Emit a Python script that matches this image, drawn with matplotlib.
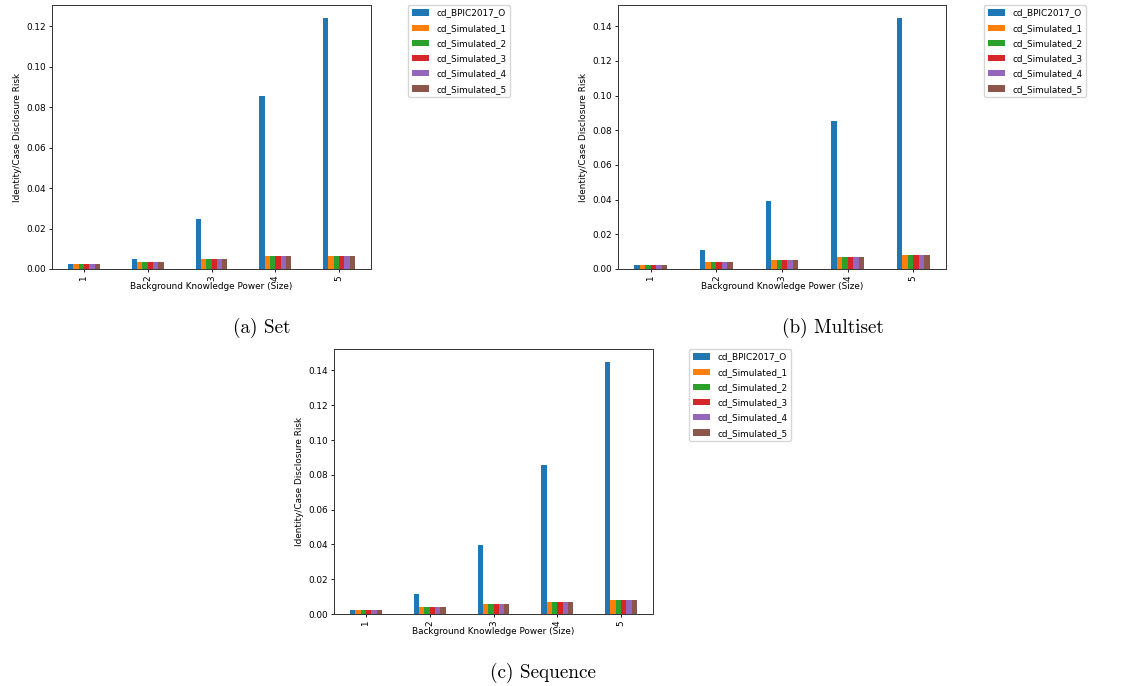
import matplotlib
matplotlib.use("Agg")
import matplotlib.pyplot as plt
import numpy as np

SIZES = ["1", "2", "3", "4", "5"]
SERIES = ["cd_BPIC2017_O", "cd_Simulated_1", "cd_Simulated_2",
          "cd_Simulated_3", "cd_Simulated_4", "cd_Simulated_5"]

# (a) Set
set_bpic = [0.0025, 0.0049, 0.0247, 0.0854, 0.1243]
set_sim = [0.0025, 0.0035, 0.0049, 0.0066, 0.0066]

# (b) Multiset
multiset_bpic = [0.0025, 0.0112, 0.0395, 0.0856, 0.1450]
multiset_sim = [0.0025, 0.0041, 0.0054, 0.0069, 0.0083]

# (c) Sequence
sequence_bpic = [0.0025, 0.0113, 0.0396, 0.0857, 0.1451]
sequence_sim = [0.0025, 0.0041, 0.0055, 0.0070, 0.0083]

COLORS = ["#1f77b4", "#ff7f0e", "#2ca02c", "#d62728", "#9467bd", "#8c564b"]
FS = 6.4

W, H = 1134, 686


def frac_box(left, top, right, bottom):
    return [left / W, 1 - bottom / H, (right - left) / W, (bottom - top) / H]


def draw(fig, box, legend_xy, bpic, sim, caption, caption_xy):
    ax = fig.add_axes(frac_box(*box))
    values = [bpic] + [sim] * 5
    x = np.arange(len(SIZES))
    width = 0.5 / len(SERIES)
    for i, (name, vals) in enumerate(zip(SERIES, values)):
        ax.bar(x - 0.25 + width * (i + 0.5), vals, width, color=COLORS[i], label=name)
    ax.set_xlim(-0.5, 4.5)
    ax.set_ylim(0, max(bpic) * 1.05)
    ax.set_xticks(x)
    ax.set_xticklabels(SIZES, rotation=90)
    ax.tick_params(labelsize=FS, length=2.3, width=0.6, pad=2)
    for sp in ax.spines.values():
        sp.set_linewidth(0.7)
        sp.set_edgecolor("#333333")
    ax.set_xlabel("Background Knowledge Power (Size)", fontsize=FS, labelpad=1)
    ax.set_ylabel("Identity/Case Disclosure Risk", fontsize=FS, labelpad=3)
    ax.legend(loc="upper left", bbox_to_anchor=(legend_xy[0] / W, 1 - legend_xy[1] / H),
              bbox_transform=fig.transFigure, borderaxespad=0, fontsize=FS,
              labelspacing=0.7)
    fig.text(caption_xy[0] / W, 1 - caption_xy[1] / H, caption, family="cmr10",
             fontsize=13.8, ha="center", va="center")


fig = plt.figure(figsize=(W / 100, H / 100), dpi=100)

draw(fig, (52, 5, 371, 269), (408, 5), set_bpic, set_sim, "(a) Set", (262, 328))
draw(fig, (618, 5, 946, 269), (984, 5), multiset_bpic, multiset_sim,
     "(b) Multiset", (833, 328))
draw(fig, (334, 349, 653, 614), (689, 349), sequence_bpic, sequence_sim,
     "(c) Sequence", (543, 673))

fig.savefig("out.png", dpi=100)
